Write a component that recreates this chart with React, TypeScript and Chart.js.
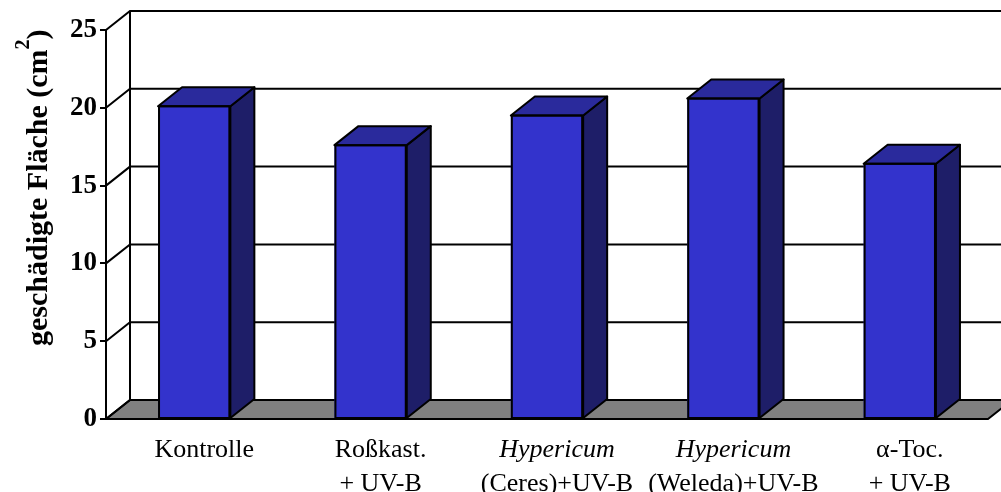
import React, { useEffect, useRef } from "react";
import { Chart, registerables } from "chart.js";

Chart.register(...registerables);

const labelLine1 = ["Kontrolle", "Roßkast.", "Hypericum", "Hypericum", "α-Toc."];
const labelLine2 = ["", "+ UV-B", "(Ceres)+UV-B", "(Weleda)+UV-B", "+ UV-B"];
const labelItalic = [false, false, true, true, false];
const values = [20.1, 17.6, 19.5, 20.6, 16.4];
const yTicks = [0, 5, 10, 15, 20, 25];
const yTitleMain = "geschädigte Fläche (cm";
const yTitleSup = "2";
const yTitleEnd = ")";

const DX = 24;
const DY = 19;
const SERIF = '"Liberation Serif", "Times New Roman", serif';

const excel3d = {
  id: "excel3d",
  beforeDatasetsDraw(chart: any) {
    const { ctx, chartArea, scales } = chart;
    const y = scales.y;
    const L = chartArea.left;
    const R = chartArea.right;
    const B = y.getPixelForValue(0);
    const T = y.getPixelForValue(yTicks[yTicks.length - 1]);
    ctx.save();
    ctx.lineWidth = 2;
    ctx.strokeStyle = "#000";
    ctx.lineJoin = "miter";
    // floor
    ctx.beginPath();
    ctx.moveTo(L, B);
    ctx.lineTo(L + DX, B - DY);
    ctx.lineTo(R + DX, B - DY);
    ctx.lineTo(R, B);
    ctx.closePath();
    ctx.fillStyle = "#808080";
    ctx.fill();
    ctx.stroke();
    // back wall left edge
    ctx.beginPath();
    ctx.moveTo(L + DX, T - DY);
    ctx.lineTo(L + DX, B - DY);
    ctx.stroke();
    // gridlines and side wall diagonals
    for (const v of yTicks) {
      const yy = y.getPixelForValue(v);
      ctx.beginPath();
      ctx.moveTo(L, yy);
      ctx.lineTo(L + DX, yy - DY);
      if (v > 0) ctx.lineTo(R + DX, yy - DY);
      ctx.stroke();
    }
    ctx.restore();
  },
  afterDatasetsDraw(chart: any) {
    const { ctx } = chart;
    const meta = chart.getDatasetMeta(0);
    ctx.save();
    ctx.lineWidth = 2;
    ctx.strokeStyle = "#000";
    ctx.lineJoin = "round";
    meta.data.forEach((bar: any) => {
      const { x, y, base, width } = bar.getProps(["x", "y", "base", "width"], true);
      const l = x - width / 2;
      const r = x + width / 2;
      // side face
      ctx.beginPath();
      ctx.moveTo(r, y);
      ctx.lineTo(r + DX, y - DY);
      ctx.lineTo(r + DX, base - DY);
      ctx.lineTo(r, base);
      ctx.closePath();
      ctx.fillStyle = "#1E1E68";
      ctx.fill();
      ctx.stroke();
      // top face
      ctx.beginPath();
      ctx.moveTo(l, y);
      ctx.lineTo(l + DX, y - DY);
      ctx.lineTo(r + DX, y - DY);
      ctx.lineTo(r, y);
      ctx.closePath();
      ctx.fillStyle = "#2A2A9C";
      ctx.fill();
      ctx.stroke();
      // front outline
      ctx.strokeRect(l + 1, y, width - 2, base - y);
    });
    ctx.restore();
  },
  afterDraw(chart: any) {
    const { ctx, scales } = chart;
    const x = scales.x;
    const B = scales.y.getPixelForValue(0);
    ctx.save();
    ctx.fillStyle = "#000";
    ctx.textAlign = "center";
    ctx.textBaseline = "alphabetic";
    labelLine1.forEach((t, i) => {
      const cx = x.getPixelForValue(i) + 10;
      ctx.font = `${labelItalic[i] ? "italic " : ""}26px ${SERIF}`;
      ctx.fillText(t, cx, B + 38);
      ctx.font = `26px ${SERIF}`;
      if (labelLine2[i]) ctx.fillText(labelLine2[i], cx, B + 72);
    });
    // y title
    ctx.translate(47, 346);
    ctx.rotate(-Math.PI / 2);
    ctx.textAlign = "left";
    ctx.font = `bold 30px ${SERIF}`;
    ctx.fillText(yTitleMain, 0, 0);
    let off = ctx.measureText(yTitleMain).width;
    ctx.font = `bold 20px ${SERIF}`;
    ctx.fillText(yTitleSup, off, -18);
    off += ctx.measureText(yTitleSup).width;
    ctx.font = `bold 30px ${SERIF}`;
    ctx.fillText(yTitleEnd, off, 0);
    ctx.restore();
  },
};

export default function App() {
  const ref = useRef<HTMLCanvasElement | null>(null);
  useEffect(() => {
    if (!ref.current) return;
    const chart = new Chart(ref.current, {
      type: "bar",
      data: {
        labels: labelLine1.map((t, i) => (labelLine2[i] ? `${t} ${labelLine2[i]}` : t)),
        datasets: [
          {
            data: values,
            backgroundColor: "#3333CC",
            borderColor: "#000",
            borderWidth: 0,
            borderSkipped: false,
            barPercentage: 0.41,
            categoryPercentage: 1,
          },
        ],
      },
      options: {
        responsive: false,
        animation: false,
        devicePixelRatio: 1,
        layout: { padding: { left: 0, right: 13, top: 30, bottom: 73 } },
        plugins: { legend: { display: false }, tooltip: { enabled: false }, title: { display: false } },
        scales: {
          x: { display: false, offset: true, grid: { display: false } },
          y: {
            min: 0,
            max: 25,
            afterFit: (s: any) => {
              s.width = 106;
            },
            afterBuildTicks: (s: any) => {
              s.ticks = yTicks.map((v) => ({ value: v }));
            },
            ticks: {
              color: "#000",
              padding: 3,
              font: { family: SERIF, size: 27, weight: "bold" },
            },
            grid: { drawOnChartArea: false, drawTicks: true, tickLength: 6, color: "#000", lineWidth: 2 },
            border: { display: true, color: "#000", width: 2 },
          },
        },
      },
      plugins: [excel3d],
    });
    return () => chart.destroy();
  }, []);
  return (
    <div style={{ position: "absolute", left: 0, top: 0, width: 1001, height: 492, background: "#fff" }}>
      <canvas ref={ref} width={1001} height={492} style={{ display: "block" }} />
    </div>
  );
}
